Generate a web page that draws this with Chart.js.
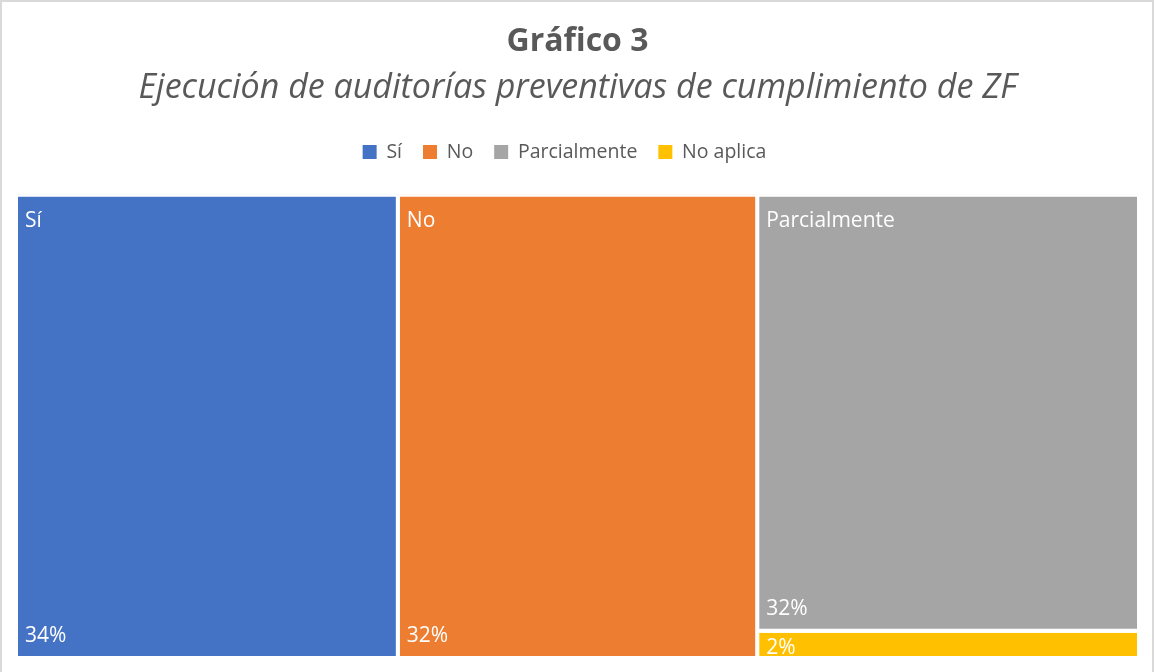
<!DOCTYPE html>
<html lang="es">
<head>
<meta charset="UTF-8">
<title>Gráfico 3</title>
<script src="https://cdn.jsdelivr.net/npm/chart.js@4.4.0/dist/chart.umd.min.js"></script>
<style>
    body { margin: 0; background: #fff; }
    #wrap { width: 1154px; height: 672px; }
</style>
</head>
<body>
<div id="wrap"><canvas id="chart" width="1154" height="672"></canvas></div>
<script>
// data
const categories = ['Sí', 'No', 'Parcialmente', 'No aplica'];
const values = [34, 32, 32, 2];
const valueLabels = ['34%', '32%', '32%', '2%'];
const colors = ['#4472C4', '#ED7D31', '#A5A5A5', '#FFC000'];

// plot area in scale units (same aspect as the drawing area)
const AREA_W = 1123;
const AREA_H = 463;
const TEXT = '#595959';
const FONT = "'Open Sans', sans-serif";

// simple squarified treemap layout in scale units
function worst(row, side) {
    const s = row.reduce((a, b) => a + b, 0);
    const mx = Math.max(...row), mn = Math.min(...row);
    return Math.max(side * side * mx / (s * s), (s * s) / (side * side * mn));
}
function squarify(vals) {
    const total = vals.reduce((a, b) => a + b, 0);
    const areas = vals.map(v => v / total * AREA_W * AREA_H);
    let box = { x: 0, y: 0, w: AREA_W, h: AREA_H };
    const rects = [];
    let i = 0;
    while (i < areas.length) {
        const side = Math.min(box.w, box.h);
        let row = [areas[i]];
        let j = i + 1;
        while (j < areas.length && worst(row.concat(areas[j]), side) <= worst(row, side)) {
            row.push(areas[j]);
            j++;
        }
        const s = row.reduce((a, b) => a + b, 0);
        if (box.w >= box.h) {
            // column on the left
            const cw = s / box.h;
            let y = box.y;
            row.forEach(a => {
                const hh = a / cw;
                rects.push({ x0: box.x, y0: y, x1: box.x + cw, y1: y + hh });
                y += hh;
            });
            box = { x: box.x + cw, y: box.y, w: box.w - cw, h: box.h };
        } else {
            // row on the top
            const rh = s / box.w;
            let x = box.x;
            row.forEach(a => {
                const ww = a / rh;
                rects.push({ x0: x, y0: box.y, x1: x + ww, y1: box.y + rh });
                x += ww;
            });
            box = { x: box.x, y: box.y + rh, w: box.w, h: box.h - rh };
        }
        i = j;
    }
    return rects;
}

const rects = squarify(values);

const datasets = categories.map((name, k) => {
    const r = rects[k];
    return {
        label: name,
        data: [
            { x: r.x0, y: r.y0 }, { x: r.x1, y: r.y0 },
            { x: r.x1, y: r.y1 }, { x: r.x0, y: r.y1 }, { x: r.x0, y: r.y0 }
        ],
        showLine: true,
        fill: 'shape',
        backgroundColor: colors[k],
        borderColor: '#ffffff',
        borderWidth: 4,
        pointRadius: 0,
        tension: 0
    };
});

// labels inside the tiles
const tileLabels = {
    id: 'tileLabels',
    afterDatasetsDraw(chart) {
        const { ctx, scales: { x, y } } = chart;
        ctx.save();
        ctx.fillStyle = '#ffffff';
        ctx.font = '21px ' + FONT;
        ctx.textAlign = 'left';
        ctx.textBaseline = 'alphabetic';
        rects.forEach((r, k) => {
            const left = x.getPixelForValue(r.x0) + 9;
            const top = y.getPixelForValue(r.y0);
            const bottom = y.getPixelForValue(r.y1);
            const tall = bottom - top > 60;
            ctx.fillText(valueLabels[k], left, tall ? bottom - 16 : bottom - 4);
            if (bottom - top > 80) {
                ctx.fillText(categories[k], left, top + 32);
            }
        });
        ctx.restore();
    }
};

// extra room under the legend, and legend nudged a bit left
const legendSpace = {
    id: 'legendSpace',
    beforeInit(chart) {
        const fit = chart.legend.fit;
        chart.legend.fit = function () {
            fit.bind(chart.legend)();
            this.height += 23;
        };
    },
    afterLayout(chart) {
        chart.legend.left -= 13;
        chart.legend.right -= 13;
    }
};

const frame = {
    id: 'frame',
    beforeDraw(chart) {
        const ctx = chart.ctx;
        ctx.save();
        ctx.fillStyle = '#ffffff';
        ctx.fillRect(0, 0, chart.width, chart.height);
        ctx.strokeStyle = '#d9d9d9';
        ctx.lineWidth = 2;
        ctx.strokeRect(1, 1, chart.width - 2, chart.height + 10);
        ctx.restore();
    }
};

new Chart(document.getElementById('chart'), {
    type: 'scatter',
    data: { datasets },
    options: {
        responsive: false,
        animation: false,
        layout: { padding: { left: 16, right: 15, top: 0, bottom: 14 } },
        scales: {
            x: { display: false, min: 0, max: AREA_W },
            y: { display: false, min: 0, max: AREA_H, reverse: true }
        },
        plugins: {
            title: {
                display: true,
                text: 'Gráfico 3',
                color: TEXT,
                font: { family: FONT, size: 32, weight: 'bold' },
                padding: { top: 23, bottom: 0 }
            },
            subtitle: {
                display: true,
                text: 'Ejecución de auditorías preventivas de cumplimiento de ZF',
                color: TEXT,
                font: { family: FONT, size: 34, style: 'italic' },
                padding: { top: 7, bottom: 12 }
            },
            legend: {
                display: true,
                position: 'top',
                labels: {
                    color: TEXT,
                    font: { family: FONT, size: 19.5 },
                    boxWidth: 14,
                    boxHeight: 14,
                    padding: 21,
                    generateLabels: () => categories.map((c, k) => ({
                        text: c,
                        fillStyle: colors[k],
                        strokeStyle: colors[k],
                        lineWidth: 0,
                        fontColor: TEXT,
                        hidden: false,
                        datasetIndex: k
                    }))
                },
                onClick: () => {}
            },
            tooltip: { enabled: false }
        }
    },
    plugins: [frame, legendSpace, tileLabels]
});
</script>
</body>
</html>
